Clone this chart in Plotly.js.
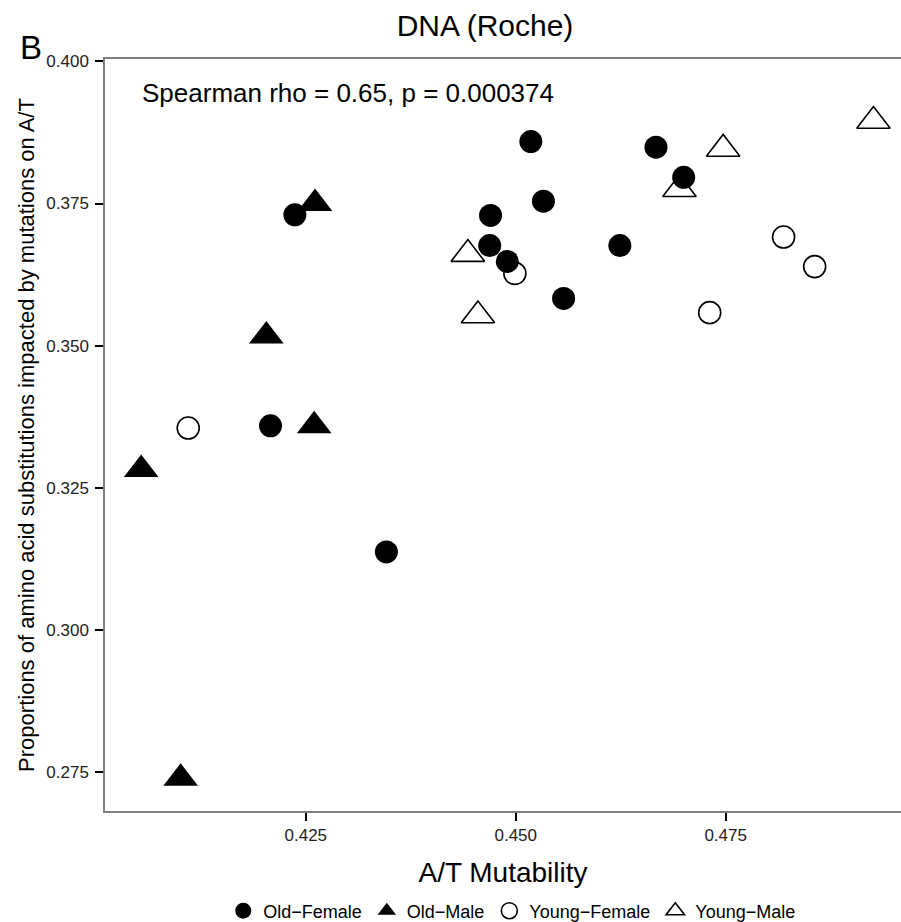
<!DOCTYPE html>
<html>
<head>
<meta charset="utf-8">
<script src="https://cdn.plot.ly/plotly-3.0.1.min.js"></script>
<style>html,body{margin:0;padding:0;background:#fff;}#chart{width:901px;height:922px;}</style>
</head>
<body>
<div id="chart"></div>
<script>
// Data
var groupNames = ["Old\u2212Female", "Old\u2212Male", "Young\u2212Female", "Young\u2212Male"];

var oldFemaleX = [0.4237, 0.4208, 0.4470, 0.4469, 0.4518, 0.4533, 0.4490, 0.4624, 0.4557, 0.4667, 0.4700, 0.4346];
var oldFemaleY = [0.3730, 0.3359, 0.3729, 0.3676, 0.3859, 0.3754, 0.3648, 0.3676, 0.3583, 0.3849, 0.3796, 0.3137];

var oldMaleX = [0.4261, 0.4203, 0.4260, 0.4054, 0.4101];
var oldMaleY = [0.3750, 0.3517, 0.3359, 0.3282, 0.2739];

var youngFemaleX = [0.4110, 0.4499, 0.4819, 0.4856, 0.4731];
var youngFemaleY = [0.3355, 0.3627, 0.3691, 0.3639, 0.3558];

var youngMaleX = [0.4443, 0.4455, 0.4695, 0.4747, 0.4926];
var youngMaleY = [0.3661, 0.3553, 0.3775, 0.3846, 0.3895];

var xTickVals = [0.425, 0.450, 0.475];
var xTickText = ["0.425", "0.450", "0.475"];
var yTickVals = [0.275, 0.300, 0.325, 0.350, 0.375, 0.400];
var yTickText = ["0.275", "0.300", "0.325", "0.350", "0.375", "0.400"];

var titleText = "DNA (Roche)";
var statText = "Spearman rho = 0.65, p = 0.000374";
var xTitle = "A/T Mutability";
var yTitle = "Proportions of amino acid substitutions impacted by mutations on A/T";
var panelLabel = "B";

var FONT = "Liberation Sans, Arial, Helvetica, sans-serif";

var traces = [
  {x: youngFemaleX, y: youngFemaleY, name: groupNames[2], legendrank: 3, type: "scatter", mode: "markers",
   marker: {symbol: "circle-open", size: 22, color: "#000", line: {width: 1.6, color: "#000"}}},
  {x: youngMaleX, y: youngMaleY, name: groupNames[3], legendrank: 4, type: "scatter", mode: "markers",
   marker: {symbol: "triangle-up-open", size: 29, color: "#000", line: {width: 1.6, color: "#000"}}},
  {x: oldFemaleX, y: oldFemaleY, name: groupNames[0], legendrank: 1, type: "scatter", mode: "markers",
   marker: {symbol: "circle", size: 23, color: "#000", line: {width: 0}}},
  {x: oldMaleX, y: oldMaleY, name: groupNames[1], legendrank: 2, type: "scatter", mode: "markers",
   marker: {symbol: "triangle-up", size: 30, color: "#000", line: {width: 0}}}
];

var layout = {
  width: 901, height: 922,
  paper_bgcolor: "#fff", plot_bgcolor: "#fff",
  margin: {l: 105, r: 0, t: 59, b: 111, autoexpand: false},
  font: {family: FONT, color: "#000"},
  title: {text: titleText, font: {family: FONT, size: 30, color: "#000"},
          x: 485/901, xref: "container", xanchor: "center",
          y: 1 - 25/922, yref: "container", yanchor: "middle"},
  showlegend: true,
  legend: {orientation: "h", x: 0.511, xanchor: "center", y: -0.133, yanchor: "middle",
           font: {family: FONT, size: 18, color: "#000"}, traceorder: "normal",
           itemsizing: "trace", bgcolor: "rgba(0,0,0,0)"},
  xaxis: {
    range: [0.40109, 0.49588], showgrid: false, zeroline: false,
    showline: true, linecolor: "#7f7f7f", linewidth: 1.5, mirror: true,
    ticks: "outside", ticklen: 8, tickwidth: 1.5, tickcolor: "#000",
    tickvals: xTickVals, ticktext: xTickText, ticklabelstandoff: 0,
    tickfont: {family: FONT, size: 17, color: "#222"},
    title: {text: xTitle, font: {family: FONT, size: 28, color: "#000"}, standoff: 18}
  },
  yaxis: {
    range: [0.26813, 0.40042], showgrid: false, zeroline: false,
    showline: true, linecolor: "#7f7f7f", linewidth: 1.5, mirror: false,
    ticks: "outside", ticklen: 8, tickwidth: 1.5, tickcolor: "#000",
    tickvals: yTickVals, ticktext: yTickText, ticklabelstandoff: 3,
    tickfont: {family: FONT, size: 17, color: "#222"},
    title: {text: yTitle, font: {family: FONT, size: 22, color: "#000"}, standoff: 6}
  },
  annotations: [
    {text: statText, xref: "paper", yref: "paper", x: (140-105)/796, y: (811-93)/752,
     xanchor: "left", yanchor: "middle", showarrow: false,
     font: {family: FONT, size: 26, color: "#000"}},
    {text: panelLabel, xref: "paper", yref: "paper", x: (18-105)/796, y: (811-48)/752,
     xanchor: "left", yanchor: "middle", showarrow: false,
     font: {family: FONT, size: 33, color: "#000"}}
  ]
};

Plotly.newPlot("chart", traces, layout, {displayModeBar: false, responsive: false});
</script>
</body>
</html>
